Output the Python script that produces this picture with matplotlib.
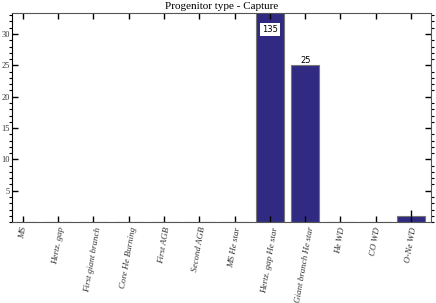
import matplotlib.pyplot as plt
from matplotlib.ticker import MultipleLocator

categories = ['MS', 'Hertz. gap', 'First giant branch', 'Core He Burning',
              'First AGB', 'Second AGB', 'MS He star', 'Hertz. gap He star',
              'Giant branch He star', 'He WD', 'CO WD', 'O-Ne WD']
counts = [0, 0, 0, 0, 0, 0, 0, 135, 25, 0, 0, 1]
errors = [0, 0, 0, 0, 0, 0, 0, 0, 0, 0, 0, 1]
ymax = 33.3

plt.rcParams['font.family'] = ['Liberation Serif', 'DejaVu Serif']

fig = plt.figure(figsize=(4.36, 3.03), dpi=100)
ax = fig.add_axes([0.027, 0.267, 0.962, 0.689])

x = list(range(len(categories)))
ax.bar(x, counts, width=0.81, color='#312a82', edgecolor='#777777', linewidth=0.8)
ax.errorbar(x[-1], counts[-1], yerr=[[0], [errors[-1]]], fmt='none', ecolor='black', lw=1)

ax.set_xlim(-0.31, 11.57)
ax.set_ylim(0, ymax)
ax.set_xticks(x)
ax.set_xticklabels(categories, rotation=80, style='italic', color='#333333')
ax.yaxis.set_minor_locator(MultipleLocator(1))
ax.set_yticks([5, 10, 15, 20, 25, 30])
ax.tick_params(axis='both', direction='in', top=True, right=True)
ax.tick_params(axis='x', length=4, width=1, labelsize=6.5, pad=3)
ax.tick_params(axis='y', which='major', length=4, width=1, labelsize=6, pad=1.5,
               labelcolor='#333333')
ax.tick_params(axis='y', which='minor', length=2, width=0.8, right=True)
for s in ax.spines.values():
    s.set_color('#555555')
ax.spines['left'].set_color('black')

ax.text(7, ymax - 2.6, str(counts[7]), ha='center', va='center', fontsize=6,
        family='DejaVu Sans', bbox=dict(facecolor='white', edgecolor='none', pad=1.5))
ax.text(8, counts[8], str(counts[8]), ha='center', va='bottom', fontsize=6, family='DejaVu Sans')

ax.set_title('Progenitor type - Capture', fontsize=8, pad=3)

fig.savefig('out.png', dpi=100)
